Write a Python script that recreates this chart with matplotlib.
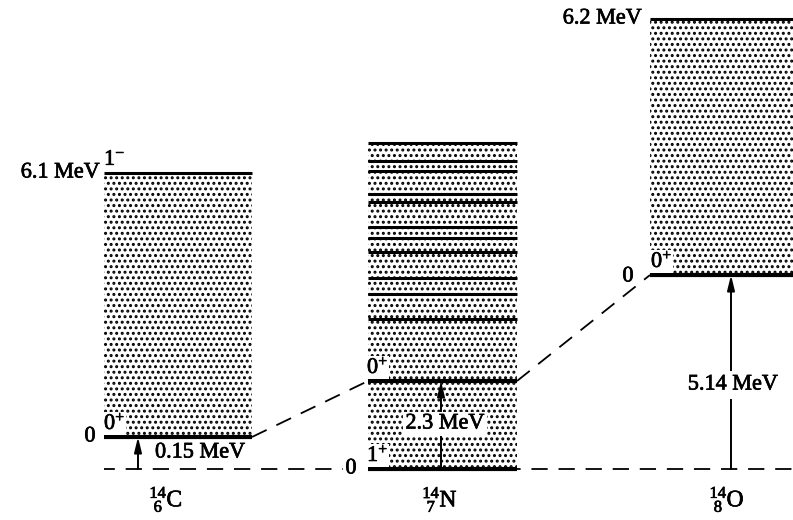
import matplotlib
matplotlib.use("Agg")
import matplotlib.pyplot as plt
from matplotlib.patches import Rectangle
import matplotlib.patheffects as pe

plt.rcParams['font.family'] = ['Liberation Serif', 'DejaVu Serif']
plt.rcParams['mathtext.fontset'] = 'custom'
plt.rcParams['mathtext.rm'] = 'Liberation Serif'
plt.rcParams['mathtext.it'] = 'Liberation Serif'
plt.rcParams['hatch.linewidth'] = 1.4

# ---- data (diagram heights above the 14N ground state, schematic units) ----
nuclides = [r'$^{14}_{\ 6}$C', r'$^{14}_{\ 7}$N', r'$^{14}_{\ 8}$O']
box_left = [104, 368, 650]
box_right = [252, 517, 800]
label_x = [166, 440, 727]

c14_levels = [32, 296]            # 0+ ground, 1- at 6.1 MeV
n14_levels = [0, 88, 150, 175, 191, 217, 231, 242, 267, 275, 298, 308, 326]
o14_levels = [194, 450]           # 0+ ground, 6.2 MeV

gaps = ['0.15 MeV', '2.3 MeV', '5.14 MeV']
arrow_x = [138, 441, 731]
arrow_top = [32, 88, 194]

fig = plt.figure(figsize=(7.93, 5.20), dpi=100)
ax = fig.add_axes([0, 0, 1, 1])
ax.set_xlim(0, 793)
ax.set_ylim(-51, 469)
ax.axis('off')

FS = 16
LW_G = 3.0
LW_L = 2.2
ink = [pe.Stroke(linewidth=0.5, foreground='black'), pe.Normal()]

def txt(x, y, s, **kw):
    t = ax.text(x, y, s, fontsize=kw.pop('fontsize', FS), **kw)
    t.set_path_effects(ink)
    return t

def stipple(x0, x1, y0, y1):
    ax.add_patch(Rectangle((x0, y0), x1 - x0, y1 - y0, facecolor='white',
                           edgecolor='black', linewidth=0, hatch='...', zorder=1))

# 14C
stipple(box_left[0], box_right[0], c14_levels[0], c14_levels[1])
ax.plot([box_left[0], box_right[0]], [c14_levels[0]] * 2, color='black', lw=LW_G, solid_capstyle='butt', zorder=3)
ax.plot([box_left[0], box_right[0]], [c14_levels[1]] * 2, color='black', lw=LW_L, solid_capstyle='butt', zorder=3)

# 14N
stipple(box_left[1], box_right[1], n14_levels[0], n14_levels[-1])
for i, lv in enumerate(n14_levels):
    ax.plot([box_left[1], box_right[1]], [lv] * 2, color='black',
            lw=LW_G if i < 2 else LW_L, solid_capstyle='butt', zorder=3)

# 14O
stipple(box_left[2], box_right[2], o14_levels[0], o14_levels[1])
ax.plot([box_left[2], box_right[2]], [o14_levels[0]] * 2, color='black', lw=LW_G, solid_capstyle='butt', zorder=3)
ax.plot([box_left[2], box_right[2]], [o14_levels[1]] * 2, color='black', lw=LW_L, solid_capstyle='butt', zorder=3)

# dashed baseline and connectors
dash = (0, (9, 6))
ax.plot([box_left[0], box_left[1]], [0, 0], color='black', lw=1.3, linestyle=(3, (9, 6)), zorder=2)
ax.plot([box_right[1], 793], [0, 0], color='black', lw=1.3, linestyle=(-8, (9, 6)), zorder=2)
ax.plot([box_right[0], box_left[1]], [c14_levels[0], n14_levels[1]], color='black', lw=1.3, linestyle=dash, zorder=2)
ax.plot([box_right[1], box_left[2]], [n14_levels[1], o14_levels[0]], color='black', lw=1.3, linestyle=dash, zorder=2)

# arrows with gap labels
label_y = [16, 45, 84]
for i in range(3):
    ax.annotate('', xy=(arrow_x[i], arrow_top[i]), xytext=(arrow_x[i], 0),
                arrowprops=dict(arrowstyle='-|>,head_length=0.9,head_width=0.22',
                                color='black', lw=1.4, shrinkA=0, shrinkB=0), zorder=4)
txt(155, label_y[0], gaps[0], ha='left', va='center', zorder=5,
    bbox=dict(fc='white', ec='none', pad=1))
txt(arrow_x[1] + 4, label_y[1], gaps[1], ha='center', va='center', zorder=5,
    bbox=dict(fc='white', ec='none', pad=2))
txt(arrow_x[2] + 2, label_y[2], gaps[2], ha='center', va='center', zorder=5,
    bbox=dict(fc='white', ec='none', pad=3))

# level labels
wb = dict(fc='white', ec='none', pad=0.5)
txt(100, c14_levels[1], '6.1 MeV', ha='right', va='center')
txt(104, c14_levels[1] + 3, r'1$^{-}$', ha='left', va='bottom')
txt(90, c14_levels[0], '0', ha='center', va='center')
txt(104, c14_levels[0] + 3, r'0$^{+}$', ha='left', va='bottom', zorder=5, bbox=wb)

txt(367, n14_levels[1] + 3, r'0$^{+}$', ha='left', va='bottom', zorder=5, bbox=wb)
txt(367, n14_levels[0] + 3, r'1$^{+}$', ha='left', va='bottom', zorder=5, bbox=wb)
txt(351, n14_levels[0], '0', ha='center', va='center', zorder=5,
    bbox=dict(fc='white', ec='none', pad=1.5))

txt(628, o14_levels[0] - 2, '0', ha='center', va='center', zorder=5)
txt(651, o14_levels[0] + 3, r'0$^{+}$', ha='left', va='bottom', zorder=5, bbox=wb)
txt(642, o14_levels[1], '6.2 MeV', ha='right', va='center')

for i in range(3):
    txt(label_x[i], -31, nuclides[i], fontsize=FS + 1, ha='center', va='center')

fig.savefig('out.png', dpi=100)
